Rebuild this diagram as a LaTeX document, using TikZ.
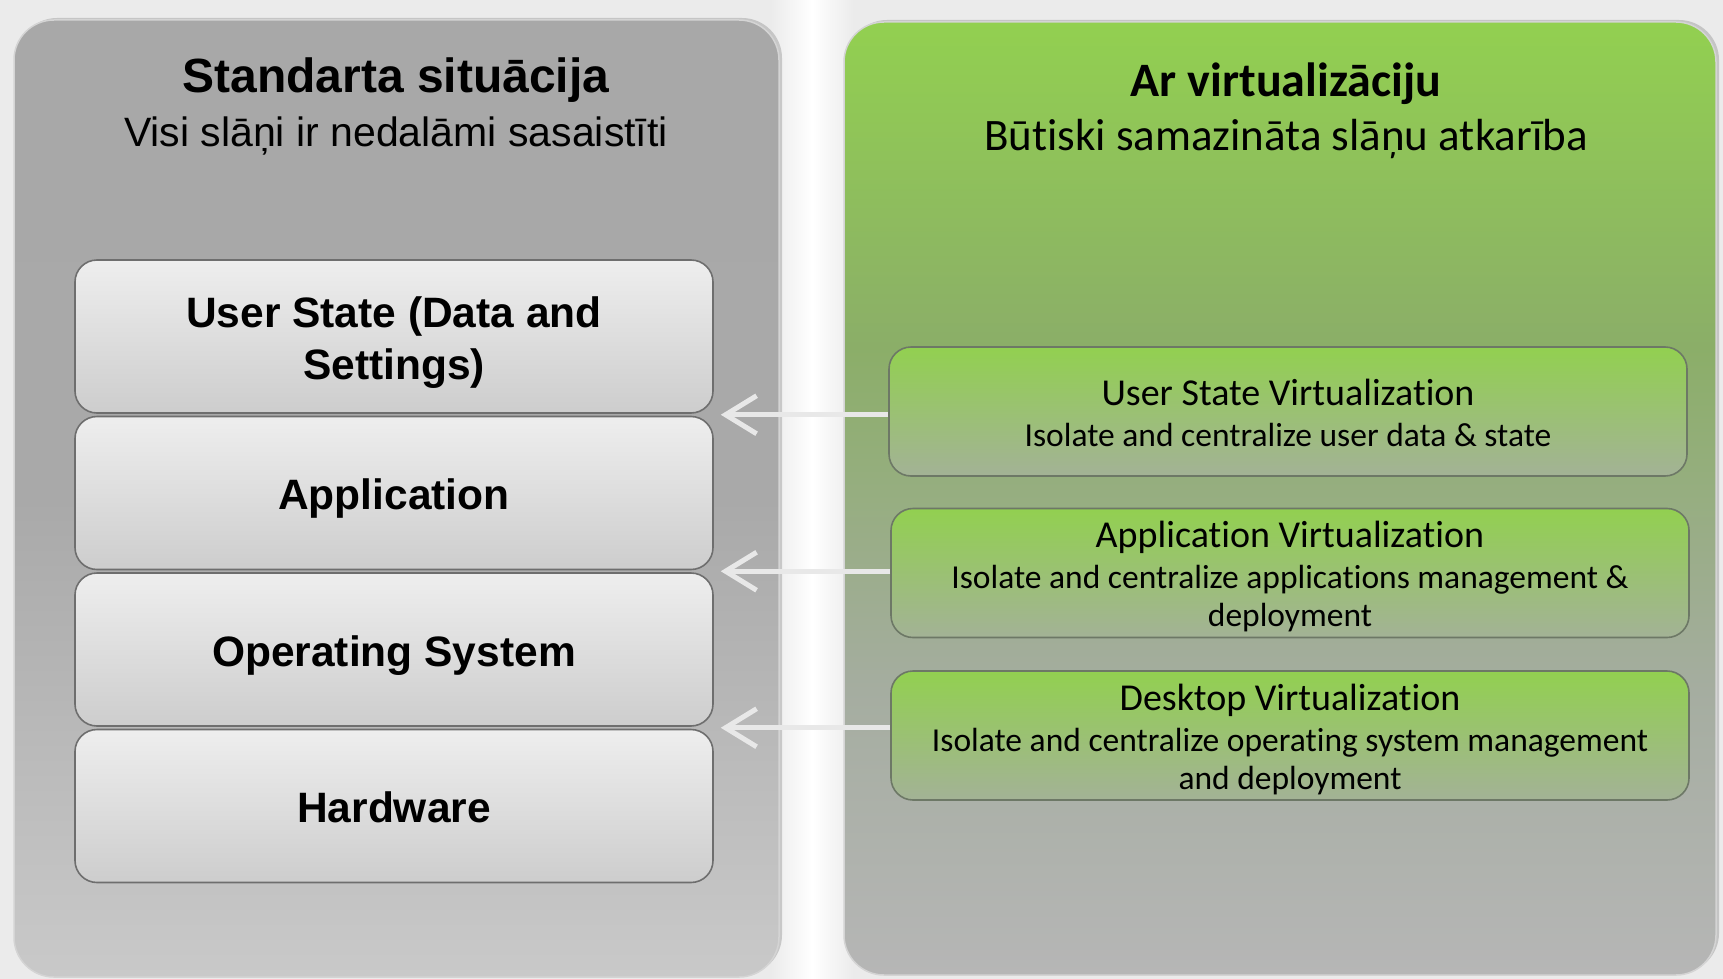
\documentclass[tikz,border=0pt]{standalone}
\usepackage{fontspec}
\setmainfont{Liberation Sans}
\newfontfamily\rfont[Ligatures={NoCommon}]{Carlito}
\usetikzlibrary{arrows.meta,shadows,calc}
\definecolor{bgc}{HTML}{EBEBEB}
\definecolor{lptop}{HTML}{A8A8A8}
\definecolor{lpmid}{HTML}{A9A9A9}
\definecolor{lpbot}{HTML}{C9C9C9}
\definecolor{rptop}{HTML}{92D050}
\definecolor{rpmidA}{HTML}{8BAE68}
\definecolor{rpmidB}{HTML}{A5ADA0}
\definecolor{rpbot}{HTML}{B6B6B6}
\definecolor{lbtop}{HTML}{EEEEEE}
\definecolor{lbbot}{HTML}{CDCDCD}
\definecolor{lbdraw}{HTML}{6E6E6E}
\definecolor{rbtop}{HTML}{92D050}
\definecolor{rbbot}{HTML}{A3B296}
\definecolor{rbdraw}{HTML}{6D7866}
\definecolor{arrowc}{HTML}{E8E8E8}
\definecolor{pborder}{HTML}{D4D4D4}
\pgfdeclareverticalshading{lpsh}{100bp}{color(0bp)=(lpbot); color(25bp)=(lpbot); color(50bp)=(lpmid); color(75bp)=(lptop); color(100bp)=(lptop)}
\pgfdeclareverticalshading{rpsh}{100bp}{color(0bp)=(rpbot); color(25bp)=(rpbot); color(40bp)=(rpmidB); color(58bp)=(rpmidA); color(75bp)=(rptop); color(100bp)=(rptop)}
\pgfdeclarehorizontalshading{gapsh}{100bp}{color(0bp)=(bgc); color(25bp)=(bgc); color(50bp)=(white); color(75bp)=(bgc); color(100bp)=(bgc)}
\newcommand\ttlf{\fontsize{38}{40}\selectfont\rfont}
\newcommand\dscf{\fontsize{33.5}{38}\selectfont\rfont}
\begin{document}
\begin{tikzpicture}[x=1pt,y=-1pt,
  panel/.style={rectangle, rounded corners=40pt, draw=pborder, line width=1.5pt, inner sep=0pt,
    drop shadow={opacity=0.35, shadow xshift=3pt, shadow yshift=2pt}},
  lbox/.style={rectangle, rounded corners=22pt, draw=lbdraw, line width=1.6pt, top color=lbtop, bottom color=lbbot,
    minimum width=638pt, minimum height=153pt, inner sep=0pt, align=center,
    text height=40pt, text depth=7pt,
    font=\fontsize{42.5}{52}\selectfont\bfseries, text=black},
  rbox/.style={rectangle, rounded corners=22pt, draw=rbdraw, line width=1.6pt, top color=rbtop, bottom color=rbbot,
    minimum width=798pt, minimum height=129pt, inner sep=0pt, align=center, font=\dscf, text=black,
    text depth=5pt},
  conn/.style={draw=arrowc, line width=5pt, -{Straight Barb[length=31pt,width=38pt]}},
]
\useasboundingbox (0,0) rectangle (1723,979);
\fill[bgc] (0,0) rectangle (1723,979);
\fill[shading=gapsh] (770,0) rectangle (854,979);

\node[panel, shading=lpsh, minimum width=765pt, minimum height=957pt] (lp) at (396.5,498.5) {};
\node[panel, shading=rpsh, minimum width=872pt, minimum height=953pt] (rp) at (1280,498.5) {};

\node[font=\fontsize{48}{50}\selectfont\bfseries] (lt) at (396,80.5) {Standarta situācija};
\node[font=\fontsize{41}{44}\selectfont] (ls) at (396,135.5) {Visi slāņi ir nedalāmi sasaistīti};
\node[font=\fontsize{48}{50}\selectfont\rfont\bfseries] (rt) at (1286,83.5) {Ar virtualizāciju};
\node[font=\fontsize{45}{48}\selectfont\rfont] (rs) at (1286,138.5) {Būtiski samazināta slāņu atkarība};

\node[lbox, text height=92pt] (us) at (394,336.5) {User State (Data and\\Settings)};
\node[lbox] (app) at (394,493) {Application};
\node[lbox] (os) at (394,649.5) {Operating System};
\node[lbox] (hw) at (394,806) {Hardware};

\node[rbox, text height=75pt] (usv) at (1288,411.5) {{\ttlf User State Virtualization}\\[3pt]{\dscf Isolate and centralize user data \& state}};
\node[rbox, text height=112pt] (avz) at (1290,573) {{\ttlf Application Virtualization}\\[3pt]{\dscf Isolate and centralize applications management \&}\\{\dscf deployment}};
\node[rbox, text height=113pt] (dsk) at (1290,735.5) {{\ttlf Desktop Virtualization}\\[3pt]{\dscf Isolate and centralize operating system management}\\{\dscf and deployment}};

\coordinate (j1) at ($(us.south east)!0.5!(app.north east)+(7,0)$);
\coordinate (j2) at ($(app.south east)!0.5!(os.north east)+(7,0)$);
\coordinate (j3) at ($(os.south east)!0.5!(hw.north east)+(7,0)$);
\draw[conn] (usv.west |- j1) -- (j1);
\draw[conn] (avz.west |- j2) -- (j2);
\draw[conn] (dsk.west |- j3) -- (j3);
\end{tikzpicture}
\end{document}
